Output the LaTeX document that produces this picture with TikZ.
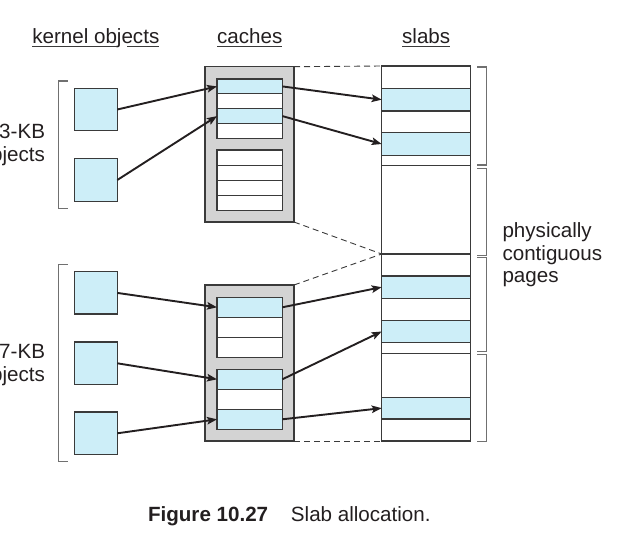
\documentclass[tikz,border=0pt]{standalone}
\usepackage{fontspec}
\setmainfont{Liberation Sans}
\usetikzlibrary{arrows.meta}
\definecolor{objblue}{HTML}{CDEEF8}
\definecolor{cachegray}{HTML}{D3D3D3}
\definecolor{edgecol}{HTML}{3A3A3A}
\definecolor{brkcol}{HTML}{707070}
\definecolor{inkcol}{HTML}{231F20}
\begin{document}
\begin{tikzpicture}[x=1pt,y=-1pt,
  txt/.style={inner sep=0pt, outer sep=0pt, text=inkcol, font=\fontsize{20.6}{22.7}\selectfont},
  obj/.style={draw=edgecol, line width=1.3pt, fill=objblue, minimum width=43pt, minimum height=42.4pt, inner sep=0pt, outer sep=0pt},
  cachebox/.style={draw=edgecol, line width=1.3pt, fill=cachegray, minimum width=89pt, inner sep=0pt, outer sep=0pt},
  crow/.style={draw=edgecol, line width=1.3pt, minimum width=65.3pt, inner sep=0pt, outer sep=0pt},
  srow/.style={draw=edgecol, line width=1.3pt, minimum width=89pt, inner sep=0pt, outer sep=0pt},
  link/.style={draw=inkcol, line width=1.9pt, -{Stealth[length=10pt,width=7.5pt,inset=2pt]}},
  guide/.style={draw=edgecol, line width=0.9pt, dash pattern=on 6pt off 4pt},
  bracket/.style={draw=brkcol, line width=1.3pt},
  uline/.style={draw=edgecol, line width=0.9pt},
]
\useasboundingbox (0,0) rectangle (627,549);

% headers
\node[txt, anchor=base] (hk) at (95.8,43.5) {kernel objects};
\node[txt, anchor=base] (hc) at (249.7,43.5) {caches};
\node[txt, anchor=base] (hs) at (426.2,43.5) {slabs};
\draw[uline] ([yshift=-3pt]hk.base west) -- ([yshift=-3pt,xshift=85pt]hk.base west);
\draw[uline] ([yshift=-3pt,xshift=95pt]hk.base west) -- ([yshift=-3pt]hk.base east);
\draw[uline] ([yshift=-3pt]hc.base west) -- ([yshift=-3pt]hc.base east);
\draw[uline] ([yshift=-3pt]hs.base west) -- ([yshift=-3pt]hs.base east);

% left brackets and labels
\draw[bracket] (67.7,81) -- (58.3,81) -- (58.3,208.3) -- (67.7,208.3);
\draw[bracket] (67.7,264.3) -- (58.3,264.3) -- (58.3,461.7) -- (67.7,461.7);
\node[txt, anchor=base east] (l3a) at (45,138.5) {3-KB};
\node[txt, anchor=base east] (l3b) at (45,161.2) {objects};
\node[txt, anchor=base east] (l7a) at (45,358.3) {7-KB};
\node[txt, anchor=base east] (l7b) at (45,381) {objects};

% kernel objects
\node[obj] (k1) at (95.8,109.5) {};
\node[obj] (k2) at (95.8,180) {};
\node[obj] (k3) at (95.8,292.9) {};
\node[obj] (k4) at (95.8,363.3) {};
\node[obj] (k5) at (95.8,433.3) {};

% caches
\node[cachebox, minimum height=155.3pt] (c1) at (249.5,144.35) {};
\node[cachebox, minimum height=156pt] (c2) at (249.5,363) {};
\foreach \i/\f in {1/objblue,2/white,3/objblue,4/white}
  \node[crow, fill=\f, minimum height=14.83pt] (c1a\i) at (249.7,{79+(\i-1)*14.83+7.415}) {};
\foreach \i in {1,...,4}
  \node[crow, fill=white, minimum height=15.17pt] (c1b\i) at (249.7,{150+(\i-1)*15.17+7.585}) {};
\foreach \i/\f in {1/objblue,2/white,3/white}
  \node[crow, fill=\f, minimum height=20pt] (c2a\i) at (249.7,{297.3+(\i-1)*20+10}) {};
\foreach \i/\f in {1/objblue,2/white,3/objblue}
  \node[crow, fill=\f, minimum height=20pt] (c2b\i) at (249.7,{369.3+(\i-1)*20+10}) {};

% slabs
\foreach \t/\b/\f [count=\i] in {66/88.3/white, 88.3/111/objblue, 111/132.7/white, 132.7/155.3/objblue,
    155.3/165.7/white, 165.7/254/white, 254/276/white, 276/298.3/objblue, 298.3/320.7/white,
    320.7/342.3/objblue, 342.3/353.3/white, 353.3/397.3/white, 397.3/419/objblue, 419/441/white}
  \node[srow, fill=\f, minimum height={\b-\t}] (s\i) at (426.2,{(\t+\b)/2}) {};

% dashed guides
\draw[guide] (c1.north east) -- (s1.north west);
\draw[guide] (c1.south east) -- (s7.north west);
\draw[guide] (c2.north east) -- (s7.north west);
\draw[guide] (c2.south east) -- (s14.south west);

% right brackets and label
\draw[bracket] (477,67) -- (486.7,67) -- (486.7,165) -- (477,165);
\draw[bracket] (477,168.3) -- (486.7,168.3) -- (486.7,255.7) -- (477,255.7);
\draw[bracket] (477,257.5) -- (486.7,257.5) -- (486.7,351.7) -- (477,351.7);
\draw[bracket] (477,354.3) -- (486.7,354.3) -- (486.7,441.5) -- (477,441.5);
\node[txt, anchor=base west] (p1) at (502.5,237.3) {physically};
\node[txt, anchor=base west] (p2) at (502.5,260) {contiguous};
\node[txt, anchor=base west] (p3) at (502.5,282.7) {pages};

% arrows
\draw[link] (k1.east) -- (c1a1.west);
\draw[link] (k2.east) -- (c1a3.west);
\draw[link] (c1a1.east) -- (s2.west);
\draw[link] (c1a3.east) -- (s4.west);
\draw[link] (k3.east) -- (c2a1.west);
\draw[link] (k4.east) -- (c2b1.west);
\draw[link] (k5.east) -- (c2b3.west);
\draw[link] (c2a1.east) -- (s8.west);
\draw[link] (c2b1.east) -- (s10.west);
\draw[link] (c2b3.east) -- (s13.west);

% caption
\node[txt, anchor=base west] (cap) at (148,521) {\textbf{Figure 10.27}\hspace{17pt} Slab allocation.};
\end{tikzpicture}
\end{document}
